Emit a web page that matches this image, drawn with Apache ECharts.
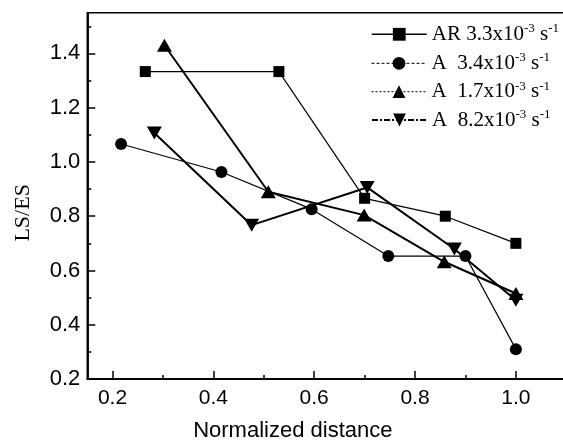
<!DOCTYPE html>
<html>
<head>
<meta charset="utf-8">
<script src="https://cdn.jsdelivr.net/npm/echarts@6/dist/echarts.min.js"></script>
<style>html,body{margin:0;padding:0;background:#fff}#c{width:563px;height:442px}</style>
</head>
<body>
<div id="c"></div>
<script>
// ---- data ----
const seriesNames = ['AR 3.3', 'A 3.4', 'A 1.7', 'A 8.2'];
const arX = [0.265, 0.53, 0.70, 0.86, 1.0];
const arY = [1.333, 1.333, 0.866, 0.80, 0.70];
const a34X = [0.217, 0.416, 0.595, 0.747, 0.90, 1.0];
const a34Y = [1.066, 0.963, 0.826, 0.653, 0.653, 0.31];
const a17X = [0.303, 0.509, 0.699, 0.858, 1.0];
const a17Y = [1.43, 0.89, 0.804, 0.632, 0.515];
const a82X = [0.283, 0.476, 0.705, 0.878, 1.0];
const a82Y = [1.107, 0.767, 0.906, 0.679, 0.49];
const xMajorTicks = [0.2, 0.4, 0.6, 0.8, 1.0];
const xMinorTicks = [0.3, 0.5, 0.7, 0.9];
const yMajorTicks = [0.2, 0.4, 0.6, 0.8, 1.0, 1.2, 1.4];
const yMinorTicks = [0.3, 0.5, 0.7, 0.9, 1.1, 1.3, 1.5];
const legendLabels = [
  ['AR 3.3x10', '-3', ' s', '-1'],
  ['A  3.4x10', '-3', ' s', '-1'],
  ['A  1.7x10', '-3', ' s', '-1'],
  ['A  8.2x10', '-3', ' s', '-1']
];

function pairs(xs, ys) { return xs.map((x, i) => [x, ys[i]]); }

const SANS = 'Liberation Sans';
const SERIF = 'Liberation Serif';
const XMIN = 0.15, XMAX = 1.1, YMIN = 0.2, YMAX = 1.55;

const chart = echarts.init(document.getElementById('c'), null, {renderer: 'canvas'});

function xAxisDef(ticks, len, labels, name) {
  return {
    type: 'value', min: XMIN, max: XMAX, position: 'bottom',
    axisLine: {show: true, onZero: false, lineStyle: {color: '#000', width: 1.5}},
    axisTick: {show: true, inside: true, length: len, customValues: ticks, lineStyle: {color: '#000', width: 1.5}},
    axisLabel: labels ? {show: true, customValues: ticks, margin: 9, color: '#000', fontFamily: SANS, fontSize: 21,
      formatter: v => v.toFixed(1)} : {show: false},
    splitLine: {show: false},
    name: name || '',
    nameLocation: 'middle', nameGap: 41,
    nameTextStyle: {color: '#000', fontFamily: SANS, fontSize: 22, padding: [0, 68, 0, 0]}
  };
}
function yAxisDef(ticks, len, labels, name) {
  return {
    type: 'value', min: YMIN, max: YMAX, position: 'left',
    axisLine: {show: true, onZero: false, lineStyle: {color: '#000', width: 1.5}},
    axisTick: {show: true, inside: true, length: len, customValues: ticks, lineStyle: {color: '#000', width: 1.5}},
    axisLabel: labels ? {show: true, customValues: ticks, margin: 7, color: '#000', fontFamily: SANS, fontSize: 22,
      formatter: v => v.toFixed(1)} : {show: false},
    splitLine: {show: false},
    name: name || '',
    nameLocation: 'middle', nameGap: 53, nameRotate: 90,
    nameTextStyle: {color: '#000', fontFamily: SERIF, fontSize: 22, padding: [0, 34, 0, 0]}
  };
}

const legendStyles = [
  {type: 'solid', width: 1.5},
  {type: [3, 2], width: 1},
  {type: [2, 2], width: 1},
  {type: [6, 2, 2, 2], width: 2}
];
const rowCenters = [34.3, 63.3, 91.7, 120];

const legends = seriesNames.map((n, i) => ({
  show: true, left: 371, top: rowCenters[i] - 12, orient: 'vertical', padding: 0,
  itemWidth: 55, itemHeight: 16,
  data: [{name: n, lineStyle: Object.assign({color: '#000'}, legendStyles[i]), itemStyle: {color: '#000'}}],
  selectedMode: false,
  formatter: () => {
    const p = legendLabels[i];
    return '{n|' + p[0] + '}{s|' + p[1] + '}{n|' + p[2] + '}{s|' + p[3] + '}';
  },
  textStyle: {
    color: '#000', fontFamily: SERIF, fontSize: 21,
    rich: {
      n: {fontFamily: SERIF, fontSize: 21, lineHeight: 24, color: '#000'},
      s: {fontFamily: SERIF, fontSize: 13, lineHeight: 24, verticalAlign: 'top', color: '#000'}
    }
  }
}));

function lineSeries(name, xs, ys, symbol, size, width, rotate) {
  return {
    name: name, type: 'line', data: pairs(xs, ys),
    xAxisIndex: 0, yAxisIndex: 0,
    symbol: symbol, symbolSize: size, symbolRotate: rotate || 0,
    showAllSymbol: true, animation: false,
    lineStyle: {color: '#000', width: width, type: 'solid'},
    itemStyle: {color: '#000', borderWidth: 0}
  };
}

chart.setOption({
  animation: false,
  backgroundColor: '#fff',
  grid: {left: 87.3, width: 479, top: 12.7, bottom: 63, show: true, borderColor: '#000', borderWidth: 1.5,
    backgroundColor: 'transparent', containLabel: false, outerBoundsMode: 'none'},
  legend: legends,
  xAxis: [xAxisDef(xMajorTicks, 8, true, 'Normalized distance'), xAxisDef(xMinorTicks, 4, false)],
  yAxis: [yAxisDef(yMajorTicks, 8, true, 'LS/ES'), yAxisDef(yMinorTicks, 4, false)],
  series: [
    lineSeries(seriesNames[0], arX, arY, 'rect', 11, 1.2),
    lineSeries(seriesNames[1], a34X, a34Y, 'circle', 12, 1.2),
    lineSeries(seriesNames[2], a17X, a17Y, 'triangle', [15, 13], 2),
    lineSeries(seriesNames[3], a82X, a82Y, 'triangle', [15, 13], 2, 180)
  ]
});
</script>
</body>
</html>
